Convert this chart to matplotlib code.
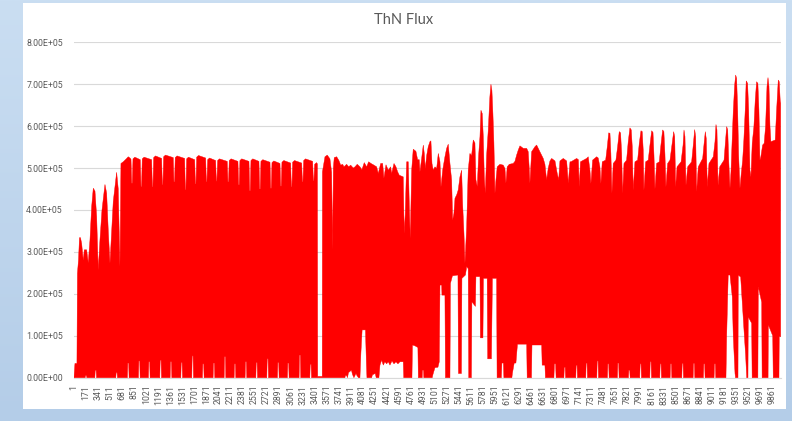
import numpy as np
import matplotlib
matplotlib.use("Agg")
import matplotlib.pyplot as plt
from matplotlib.patches import Rectangle
from matplotlib.colors import LinearSegmentedColormap

# ThN flux per sample: the series swings between a low and a high level many
# times per category, so it is stored as its upper and lower envelopes.
n_samples = 9986

upper_idx = [
    1, 14, 42, 49, 64, 78, 92, 109, 131, 146, 179, 202, 226, 250, 273, 297, 321, 343,
    367, 396, 438, 462, 485, 509, 533, 555, 603, 626, 650, 664, 697, 745, 767, 792,
    806, 816, 824, 834, 860, 937, 947, 955, 965, 991, 1098, 1108, 1116, 1126, 1152,
    1239, 1249, 1257, 1267, 1293, 1403, 1413, 1421, 1431, 1457, 1564, 1574, 1582, 1592, 1618,
    1706, 1716, 1724, 1734, 1760, 1861, 1871, 1879, 1889, 1915, 2002, 2012, 2020, 2030, 2056,
    2166, 2176, 2184, 2194, 2220, 2317, 2327, 2335, 2345, 2371, 2473, 2483, 2491, 2501, 2527,
    2614, 2624, 2632, 2642, 2668, 2770, 2780, 2788, 2798, 2824, 2911, 2921, 2929, 2939, 2965,
    3062, 3072, 3080, 3090, 3116, 3218, 3228, 3236, 3246, 3272, 3373, 3383, 3391, 3401, 3427,
    3440, 3444, 3508, 3511, 3547, 3579, 3617, 3641, 3655, 3665, 3678, 3712, 3744,
    3769, 3797, 3815, 3853, 3882, 3910, 3947, 3971, 4003, 4041, 4069, 4102, 4136,
    4164, 4197, 4229, 4277, 4300, 4334, 4362, 4380, 4409, 4441, 4475, 4489, 4522,
    4550, 4574, 4597, 4653, 4667, 4681, 4701, 4724, 4738, 4752, 4772, 4794, 4832,
    4856, 4879, 4889, 4913, 4936, 4950, 4964, 4984, 5006, 5030, 5044, 5059, 5077,
    5101, 5125, 5148, 5172, 5186, 5210, 5242, 5266, 5289, 5313, 5337, 5351, 5369,
    5384, 5408, 5430, 5454, 5478, 5492, 5511, 5525, 5549, 5571, 5595, 5619, 5642,
    5666, 5680, 5699, 5718, 5737, 5751, 5769, 5784, 5798, 5812, 5831, 5854, 5877,
    5892, 5906, 5920, 5934, 5949, 5963, 5981, 6019, 6066, 6090, 6104, 6122, 6151,
    6207, 6231, 6255, 6278, 6302, 6349, 6397, 6419, 6433, 6443, 6467, 6514, 6538,
    6584, 6631, 6655, 6679, 6702, 6726, 6750, 6797, 6829, 6849, 6867, 6914, 6962,
    6985, 7009, 7023, 7103, 7128, 7140, 7157, 7244, 7267, 7291, 7305, 7329, 7386,
    7408, 7432, 7446, 7465, 7513, 7536, 7556, 7574, 7587, 7602, 7620, 7658, 7682,
    7705, 7724, 7739, 7753, 7772, 7809, 7832, 7856, 7875, 7889, 7903, 7927, 7965,
    7988, 8012, 8030, 8044, 8054, 8078, 8115, 8139, 8163, 8182, 8196, 8210, 8233,
    8271, 8294, 8318, 8336, 8351, 8365, 8389, 8422, 8446, 8474, 8489, 8502, 8522,
    8579, 8607, 8620, 8634, 8648, 8672, 8728, 8751, 8771, 8785, 8799, 8822, 8884,
    8902, 8921, 8935, 8949, 8973, 9034, 9058, 9072, 9086, 9101, 9125, 9186, 9204,
    9223, 9238, 9252, 9270, 9284, 9298, 9316, 9336, 9350, 9364, 9379, 9392, 9411,
    9429, 9449, 9466, 9485, 9499, 9519, 9534, 9552, 9566, 9584, 9608, 9627, 9646,
    9664, 9679, 9693, 9706, 9731, 9753, 9773, 9793, 9807, 9821, 9835, 9848, 9909,
    9929, 9952, 9966, 9980, 9986,
]
upper_e5 = [
    0.02, 0.34, 0.34, 2.49, 2.80, 3.34, 3.34, 3.20, 2.80, 3.05, 3.05, 2.74, 3.28, 4.08, 4.52, 4.45, 3.84, 2.57,
    3.28, 4.00, 4.61, 4.40, 3.50, 2.73, 3.50, 4.20, 4.90, 4.50, 2.65, 5.11, 5.15, 5.23, 5.27, 5.24,
    5.21, 4.64, 4.64, 5.22, 5.26, 5.20, 4.56, 4.56, 5.22, 5.26, 5.20, 4.55, 4.55, 5.25, 5.29,
    5.23, 4.60, 4.60, 5.27, 5.31, 5.25, 4.67, 4.67, 5.25, 5.29, 5.23, 4.48, 4.48, 5.22, 5.26,
    5.20, 4.62, 4.62, 5.26, 5.30, 5.24, 4.67, 4.67, 5.20, 5.24, 5.18, 4.69, 4.69, 5.18, 5.22,
    5.16, 4.67, 4.67, 5.18, 5.22, 5.16, 4.60, 4.60, 5.18, 5.22, 5.16, 4.46, 4.46, 5.18, 5.22,
    5.16, 4.50, 4.50, 5.16, 5.20, 5.14, 4.52, 4.52, 5.13, 5.17, 5.11, 4.57, 4.57, 5.14, 5.18,
    5.12, 4.55, 4.55, 5.14, 5.18, 5.12, 4.67, 4.67, 5.18, 5.22, 5.16, 4.70, 4.70, 5.09, 5.13,
    5.10, 0.03, 0.03, 4.91, 5.27, 5.31, 5.22, 4.90, 3.05, 5.00, 5.25, 5.27, 5.18,
    5.07, 5.09, 5.03, 5.09, 5.03, 5.07, 5.00, 5.03, 5.09, 5.03, 4.96, 5.13, 5.03,
    5.15, 5.11, 5.08, 5.03, 4.87, 5.11, 5.11, 4.76, 5.08, 4.95, 5.03, 4.87, 5.11,
    5.03, 4.91, 4.83, 4.79, 3.44, 3.90, 5.15, 5.15, 4.15, 3.32, 4.95, 5.45, 5.40,
    5.20, 5.20, 4.91, 5.23, 5.55, 5.35, 4.99, 5.30, 5.51, 5.63, 5.65, 5.11, 4.95,
    5.03, 4.99, 5.35, 5.15, 4.55, 4.95, 5.27, 5.47, 5.57, 5.11, 4.71, 3.76, 3.92,
    4.28, 4.36, 4.48, 4.79, 4.95, 4.15, 3.44, 2.73, 3.60, 4.95, 5.35, 5.30, 5.67,
    5.60, 4.72, 4.56, 5.30, 5.75, 6.38, 6.30, 5.75, 4.80, 4.40, 5.30, 5.90, 6.70,
    7.00, 6.85, 6.30, 5.60, 4.40, 4.72, 5.03, 5.09, 5.07, 4.99, 4.64, 5.03, 5.09,
    5.11, 5.16, 5.31, 5.43, 5.53, 5.47, 5.47, 5.39, 5.00, 4.64, 5.39, 5.51, 5.55,
    5.39, 5.23, 5.09, 4.72, 5.00, 5.17, 5.23, 5.17, 4.87, 4.72, 5.17, 5.23, 5.17,
    4.64, 5.15, 5.15, 5.23, 5.20, 4.55, 5.15, 5.23, 5.27, 4.95, 4.63, 5.19, 5.27,
    5.24, 5.03, 4.63, 5.15, 5.19, 5.51, 5.84, 5.83, 5.35, 4.40, 5.11, 5.19, 5.51,
    5.87, 5.84, 5.35, 4.40, 5.11, 5.19, 5.63, 5.96, 5.91, 5.51, 4.47, 5.15, 5.19,
    5.59, 5.89, 5.87, 5.43, 4.47, 5.15, 5.19, 5.55, 5.89, 5.85, 5.30, 4.50, 5.11,
    5.15, 5.55, 5.91, 5.87, 5.33, 4.55, 5.11, 5.19, 5.50, 5.87, 5.75, 4.55, 5.03,
    5.15, 5.55, 5.91, 5.75, 4.59, 5.03, 5.15, 5.55, 5.92, 5.75, 4.44, 5.03, 5.23,
    5.55, 5.87, 5.70, 4.55, 5.11, 5.27, 5.63, 6.04, 5.91, 4.59, 5.03, 5.19, 5.59,
    5.99, 5.91, 5.19, 4.52, 4.91, 5.55, 6.35, 6.98, 7.22, 7.14, 6.35, 5.31, 4.52,
    4.87, 5.19, 5.67, 6.38, 7.08, 7.02, 6.38, 4.95, 4.79, 5.59, 5.99, 6.63, 7.06,
    7.02, 6.38, 5.19, 5.27, 5.55, 5.59, 6.00, 6.95, 7.16, 6.95, 6.00, 5.63, 5.67,
    6.39, 7.10, 7.06, 6.60, 6.55,
]

lower_idx = [
    1, 158, 164, 176, 182, 295, 301, 313, 319, 591, 597, 609, 615,
    755, 761, 773, 779, 911, 917, 929, 935, 1052, 1058, 1070, 1076,
    1213, 1219, 1231, 1237, 1359, 1365, 1377, 1383, 1510, 1516, 1528, 1534,
    1665, 1671, 1683, 1689, 1815, 1821, 1833, 1839, 1966, 1972, 1984, 1990,
    2122, 2128, 2140, 2146, 2263, 2269, 2281, 2287, 2418, 2424, 2436, 2442,
    2570, 2576, 2588, 2594, 2725, 2731, 2743, 2749, 2875, 2881, 2893, 2899,
    3016, 3022, 3034, 3040, 3181, 3187, 3199, 3205, 3333, 3339, 3351, 3357,
    3829, 3835, 3853, 3865, 3879, 3900, 3921, 3935, 3956, 3985, 3999, 4020,
    4041, 4055, 4072, 4119, 4133, 4140, 4206, 4218, 4257, 4271, 4309, 4324,
    4348, 4371, 4394, 4418, 4441, 4465, 4494, 4522, 4550, 4578, 4606, 4653,
    4660, 4776, 4783, 4819, 4860, 4866, 4921, 4925, 4939, 4944, 5062, 5073,
    5101, 5143, 5162, 5172, 5196, 5200, 5242, 5249, 5313, 5320, 5348, 5426,
    5433, 5475, 5482, 5532, 5549, 5571, 5578, 5616, 5623, 5673, 5680, 5737,
    5743, 5779, 5786, 5839, 5846, 5899, 5913, 5972, 5979, 6039, 6047, 6068,
    6075, 6188, 6195, 6221, 6245, 6267, 6397, 6404, 6465, 6472, 6609, 6616,
    6655, 6662, 6782, 6789, 6806, 6813, 6923, 6929, 6941, 6947,
    7091, 7097, 7109, 7115, 7232, 7238, 7250, 7256, 7388, 7394, 7406, 7412,
    7538, 7544, 7556, 7562, 7679, 7685, 7697, 7703, 7835, 7841, 7853, 7859,
    7995, 8001, 8013, 8019, 8137, 8143, 8155, 8161, 8278, 8284, 8296, 8302,
    8424, 8430, 8442, 8448, 8589, 8595, 8607, 8613, 8749, 8755, 8767, 8773,
    8894, 8900, 8912, 8918, 9045, 9051, 9063, 9069,
    9213, 9223, 9245, 9270, 9302, 9316, 9341, 9348, 9383, 9387, 9421, 9458,
    9492, 9506, 9524, 9528, 9576, 9583, 9664, 9670, 9718, 9724, 9808, 9812,
    9874, 9881, 9962, 9966, 9986,
]
lower_e5 = [
    0.00, 0.00, 0.05, 0.05, 0.00, 0.00, 0.18, 0.18, 0.00, 0.00, 0.12, 0.12, 0.00,
    0.00, 0.35, 0.35, 0.00, 0.00, 0.40, 0.40, 0.00, 0.00, 0.38, 0.38, 0.00,
    0.00, 0.42, 0.42, 0.00, 0.00, 0.38, 0.38, 0.00, 0.00, 0.36, 0.36, 0.00,
    0.00, 0.52, 0.52, 0.00, 0.00, 0.33, 0.33, 0.00, 0.00, 0.35, 0.35, 0.00,
    0.00, 0.50, 0.50, 0.00, 0.00, 0.33, 0.33, 0.00, 0.00, 0.38, 0.38, 0.00,
    0.00, 0.36, 0.36, 0.00, 0.00, 0.45, 0.45, 0.00, 0.00, 0.36, 0.36, 0.00,
    0.00, 0.35, 0.35, 0.00, 0.00, 0.54, 0.54, 0.00, 0.00, 0.32, 0.32, 0.00,
    0.00, 0.05, 0.05, 0.00, 0.12, 0.15, 0.18, 0.08, 0.00, 0.10, 0.05, 0.00,
    0.00, 0.60, 1.14, 1.14, 0.30, 0.00, 0.00, 0.07, 0.10, 0.00, 0.00, 0.30,
    0.42, 0.30, 0.38, 0.33, 0.38, 0.30, 0.40, 0.33, 0.38, 0.33, 0.38, 0.38,
    0.00, 0.00, 0.78, 0.76, 0.72, 0.00, 0.00, 0.18, 0.18, 0.00, 0.00, 0.08,
    0.24, 0.25, 0.38, 2.21, 2.21, 1.97, 1.97, 0.00, 0.00, 2.25, 2.43, 2.45,
    0.10, 0.10, 2.37, 2.45, 2.65, 2.60, 0.00, 0.00, 1.81, 1.70, 2.41, 2.41,
    0.95, 0.95, 2.37, 2.37, 0.45, 0.45, 2.37, 2.37, 0.00, 0.00, 0.35, 0.35,
    0.00, 0.00, 0.10, 0.35, 0.35, 0.80, 0.80, 0.00, 0.00, 0.78, 0.78, 0.30,
    0.30, 0.00, 0.00, 0.33, 0.33, 0.00, 0.00, 0.25, 0.25, 0.00,
    0.00, 0.30, 0.30, 0.00, 0.00, 0.35, 0.35, 0.00, 0.00, 0.40, 0.40, 0.00,
    0.00, 0.33, 0.33, 0.00, 0.00, 0.35, 0.35, 0.00, 0.00, 0.18, 0.18, 0.00,
    0.00, 0.33, 0.33, 0.00, 0.00, 0.38, 0.38, 0.00, 0.00, 0.33, 0.33, 0.00,
    0.00, 0.33, 0.33, 0.00, 0.00, 0.34, 0.34, 0.00, 0.00, 0.34, 0.34, 0.00,
    0.00, 0.33, 0.33, 0.00, 0.00, 0.33, 0.33, 0.00,
    0.00, 1.00, 2.45, 2.45, 1.93, 1.00, 0.10, 0.00, 0.00, 2.45, 2.40, 1.40,
    0.50, 0.00, 0.00, 1.45, 1.30, 0.00, 0.00, 2.17, 1.80, 0.00, 0.00, 1.26,
    1.00, 0.00, 0.00, 0.98, 0.98,
]

tick_labels = list(range(1, 9862, 170))
y_ticks = [0, 1e5, 2e5, 3e5, 4e5, 5e5, 6e5, 7e5, 8e5]
title = "ThN Flux"

W, H = 792, 421
fig = plt.figure(figsize=(W / 100, H / 100), dpi=100)

# slide background with a soft blue gradient, white chart area on top
bg = fig.add_axes([0, 0, 1, 1], zorder=-2)
grad = np.linspace(0, 1, 256).reshape(-1, 1)
cmap = LinearSegmentedColormap.from_list("slide", ["#cadef2", "#b4cde8"])
bg.imshow(grad, aspect="auto", cmap=cmap, extent=[0, 1, 0, 1], origin="upper")
bg.add_patch(Rectangle((23 / W, 1 - 409 / H), (786 - 23) / W, (409 - 3) / H,
                       transform=bg.transAxes, facecolor="white", edgecolor="none"))
bg.set_axis_off()

ax = fig.add_axes([74 / W, 1 - 377.7 / H, (780.7 - 74) / W, (377.7 - 42.3) / H])
ax.set_facecolor("none")

ux = np.asarray(upper_idx, float)
uy = np.asarray(upper_e5) * 1e5
lx = np.asarray(lower_idx, float)
ly = np.asarray(lower_e5) * 1e5
ax.fill(np.concatenate([ux, lx[::-1]]), np.concatenate([uy, ly[::-1]]),
        facecolor="#ff0000", edgecolor="#ff0000", linewidth=0.3, zorder=3)

ax.set_xlim(0.5, n_samples + 0.5)
ax.set_ylim(0, 8e5)
ax.set_yticks(y_ticks)
ax.set_yticklabels([f"{v:.2E}" for v in y_ticks])
ax.set_xticks(tick_labels)
ax.set_xticklabels([str(t) for t in tick_labels], rotation=90)

font = "Roboto"
for lab in ax.get_yticklabels() + ax.get_xticklabels():
    lab.set_fontfamily(font)
    lab.set_fontsize(6.3)
    lab.set_color("#595959")
ax.tick_params(axis="y", length=0, pad=8)
ax.tick_params(axis="x", length=0, pad=5)

ax.grid(axis="y", color="#d9d9d9", linewidth=0.8, zorder=0)
ax.set_axisbelow(True)
for side in ("top", "right", "left"):
    ax.spines[side].set_visible(False)
ax.spines["bottom"].set_color("#d9d9d9")
ax.spines["bottom"].set_linewidth(0.8)

fig.text(404 / W, 1 - 20 / H, title, ha="center", va="center",
         fontsize=10.5, color="#595959", family="Lato")

fig.savefig("out.png", dpi=100)
